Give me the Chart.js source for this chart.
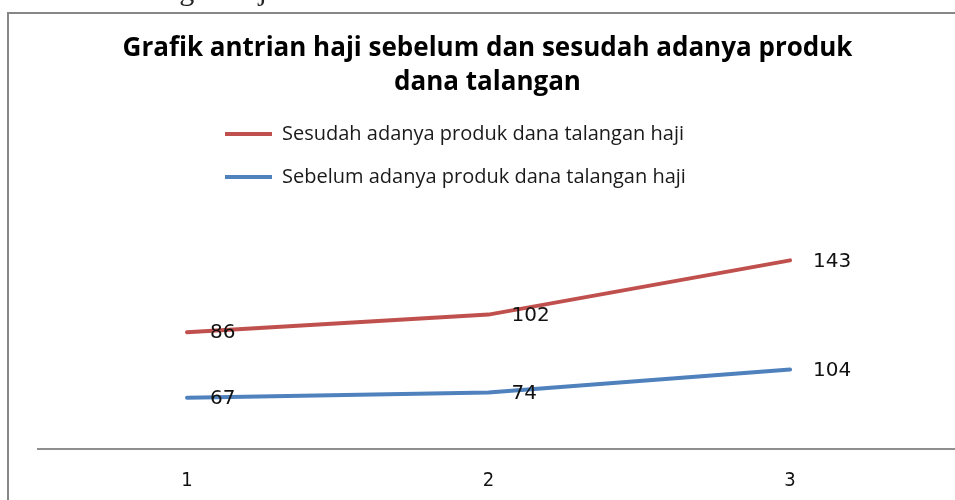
<!DOCTYPE html>
<html><head><meta charset="utf-8">
<script src="https://cdn.jsdelivr.net/npm/chart.js@4"></script>
<style>
html,body{margin:0;padding:0;background:#fff;width:955px;height:500px;overflow:hidden;position:relative}
#cut{position:absolute;left:121px;top:-25px;font-family:'Liberation Serif',serif;font-size:30px;line-height:30px;color:#222;white-space:nowrap;z-index:2}
canvas{position:absolute;left:0;top:0}
</style></head><body>
<div id="cut">talangan haji</div>
<canvas id="c" width="955" height="500"></canvas>
<script>
const categories = [1, 2, 3];
const tickLabels = ['1', '2', '3'];
const seriesNames = ['Sebelum adanya produk dana talangan haji', 'Sesudah adanya produk dana talangan haji'];
const sebelum = [67, 74, 104];
const sesudah = [86, 102, 143];
const titleLines = ['Grafik antrian haji sebelum dan sesudah adanya produk', 'dana talangan'];

const toPoints = vals => categories.map((c, i) => ({x: c, y: vals[i]}));

const frame = {
  id: 'frame',
  beforeDraw(chart) {
    const ctx = chart.ctx;
    ctx.save();
    ctx.strokeStyle = '#878787';
    ctx.lineWidth = 2;
    ctx.beginPath();
    ctx.moveTo(8, 500); ctx.lineTo(8, 13); ctx.lineTo(960, 13);
    ctx.stroke();
    ctx.restore();
  }
};

const legendShift = {
  id: 'legendShift',
  afterLayout(chart) {
    const lg = chart.legend;
    if (!lg) return;
    const p = lg.options.labels.padding;
    const w = lg.right - lg.left;
    lg.left = 225 - p;
    lg.right = lg.left + w;
  }
};

const valueLabels = {
  id: 'valueLabels',
  afterDatasetsDraw(chart) {
    const ctx = chart.ctx;
    ctx.save();
    ctx.font = '20px "DejaVu Sans"';
    ctx.fillStyle = '#111';
    ctx.textAlign = 'left';
    ctx.textBaseline = 'middle';
    chart.data.datasets.forEach((ds, i) => {
      chart.getDatasetMeta(i).data.forEach((pt, j) => {
        ctx.fillText(String(ds.data[j].y), pt.x + 23, pt.y + 1);
      });
    });
    ctx.restore();
  }
};

new Chart(document.getElementById('c'), {
  type: 'line',
  data: {
    datasets: [
      {label: seriesNames[0], data: toPoints(sebelum), borderColor: '#4F81BD', backgroundColor: '#4F81BD', borderWidth: 4, pointRadius: 0, tension: 0, fill: false, borderCapStyle: 'round'},
      {label: seriesNames[1], data: toPoints(sesudah), borderColor: '#C0504D', backgroundColor: '#C0504D', borderWidth: 4, pointRadius: 0, tension: 0, fill: false, borderCapStyle: 'round'}
    ]
  },
  options: {
    responsive: false,
    animation: false,
    layout: {padding: {left: 20, right: 0, top: 0, bottom: 0}},
    plugins: {
      title: {
        display: true,
        text: titleLines,
        color: '#000',
        font: {family: '"Open Sans"', size: 26, weight: 'bold', lineHeight: 1.3},
        padding: {top: 32, bottom: 1.4}
      },
      legend: {
        display: true,
        position: 'top',
        align: 'start',
        reverse: true,
        labels: {
          usePointStyle: true,
          pointStyle: 'line',
          pointStyleWidth: 47,
          padding: 23,
          color: '#1a1a1a',
          font: {family: '"Open Sans"', size: 20}
        }
      },
      tooltip: {enabled: false}
    },
    scales: {
      x: {
        type: 'linear',
        min: 0.5058,
        max: 3.547,
        afterBuildTicks(s) { s.ticks = categories.map(v => ({value: v})); },
        afterFit(s) { s.height = 51; },
        ticks: {
          callback: v => tickLabels[categories.indexOf(v)],
          font: {family: '"DejaVu Sans Condensed", "DejaVu Sans"', size: 20},
          color: '#111',
          padding: 20
        },
        grid: {display: false, drawTicks: false},
        border: {display: true, color: '#8f8f8f', width: 2}
      },
      y: {
        stacked: true,
        min: 0,
        max: 330,
        afterFit(s) { s.width = 18; },
        ticks: {display: false},
        grid: {display: false, drawTicks: false},
        border: {display: false}
      }
    }
  },
  plugins: [frame, legendShift, valueLabels]
});
</script>
</body></html>
